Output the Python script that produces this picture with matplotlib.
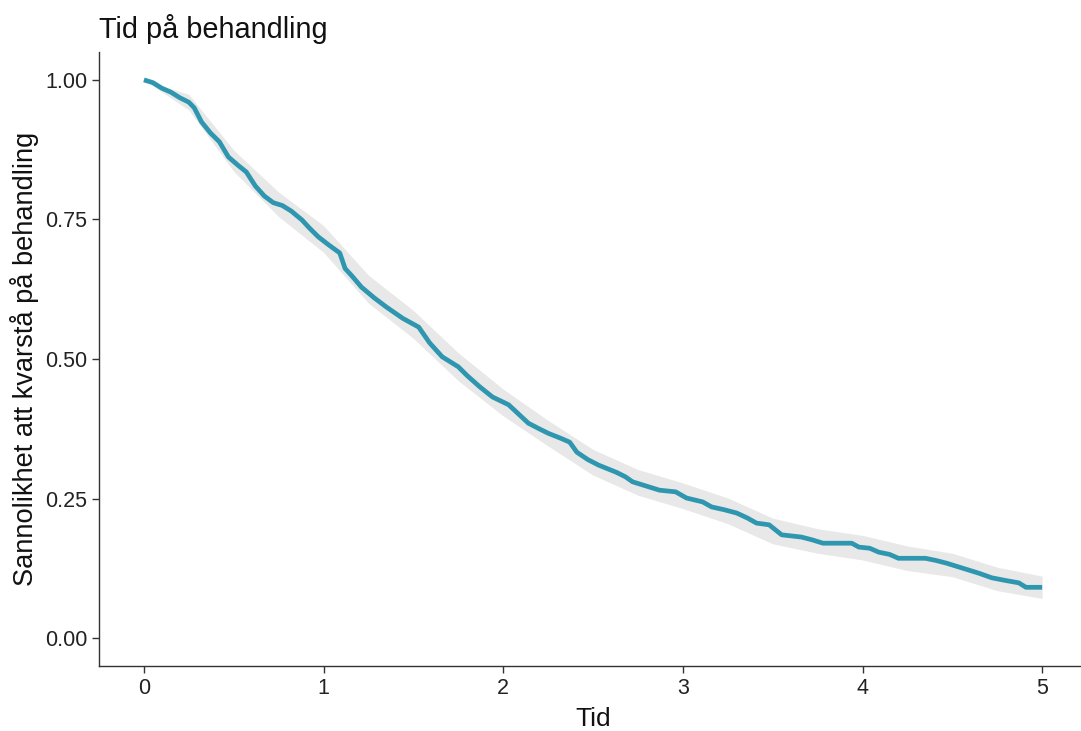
"""Kaplan-Meier curve: Tid på behandling"""
import matplotlib
matplotlib.use('Agg')
import matplotlib.pyplot as plt

# Survival curve (time, probability)
tid = [0.00, 0.05, 0.10, 0.15, 0.20, 0.25, 0.28, 0.32, 0.37, 0.42, 0.47, 0.52,
       0.57, 0.62, 0.67, 0.72, 0.77, 0.82, 0.88, 0.92, 0.97, 1.03, 1.09, 1.12,
       1.16, 1.21, 1.28, 1.35, 1.44, 1.53, 1.59, 1.66, 1.75, 1.80, 1.87, 1.94,
       2.03, 2.09, 2.14, 2.20, 2.25, 2.32, 2.37, 2.41, 2.47, 2.53, 2.63, 2.68,
       2.72, 2.80, 2.87, 2.96, 3.02, 3.11, 3.16, 3.23, 3.30, 3.36, 3.41, 3.48,
       3.55, 3.66, 3.72, 3.78, 3.94, 3.98, 4.04, 4.09, 4.15, 4.20, 4.35, 4.41,
       4.47, 4.53, 4.59, 4.65, 4.72, 4.80, 4.87, 4.91, 5.00]
surv = [1.000, 0.995, 0.985, 0.978, 0.968, 0.960, 0.950, 0.925, 0.905, 0.889,
        0.862, 0.848, 0.835, 0.810, 0.792, 0.780, 0.775, 0.765, 0.749, 0.735,
        0.719, 0.704, 0.690, 0.662, 0.648, 0.629, 0.610, 0.593, 0.573, 0.557,
        0.529, 0.504, 0.486, 0.470, 0.450, 0.432, 0.418, 0.400, 0.385, 0.375,
        0.367, 0.358, 0.351, 0.333, 0.320, 0.310, 0.297, 0.289, 0.280, 0.272,
        0.265, 0.262, 0.251, 0.244, 0.235, 0.230, 0.224, 0.215, 0.206, 0.203,
        0.185, 0.181, 0.176, 0.170, 0.170, 0.163, 0.161, 0.154, 0.150, 0.143,
        0.143, 0.139, 0.134, 0.128, 0.122, 0.116, 0.108, 0.103, 0.099, 0.091,
        0.091]

# Confidence band edges
band_tid = [0, 0.25, 0.5, 0.75, 1.0, 1.25, 1.5, 1.75, 2.0, 2.25, 2.5, 2.75,
            3.0, 3.25, 3.5, 3.75, 4.0, 4.25, 4.5, 4.75, 5.0]
band_upper = [1.0, 0.974, 0.874, 0.799, 0.739, 0.650, 0.587, 0.511, 0.446,
              0.390, 0.338, 0.302, 0.278, 0.251, 0.215, 0.196, 0.184, 0.165,
              0.152, 0.127, 0.111]
band_lower = [1.0, 0.946, 0.836, 0.755, 0.691, 0.600, 0.537, 0.461, 0.398,
              0.344, 0.292, 0.256, 0.232, 0.205, 0.169, 0.152, 0.140, 0.121,
              0.110, 0.085, 0.071]

x_ticks = [0, 1, 2, 3, 4, 5]
y_ticks = [0.00, 0.25, 0.50, 0.75, 1.00]

plt.rcParams['font.family'] = ['Liberation Sans', 'DejaVu Sans']

fig = plt.figure(figsize=(10.81, 7.31), dpi=100)
ax = fig.add_axes([0.0916, 0.0889, 0.914, 0.840])

ax.fill_between(band_tid, band_lower, band_upper, color='#e8e8e8', lw=0)
ax.plot(tid, surv, color='#2f96b0', lw=3.4, solid_capstyle='butt')

ax.set_xlim(-0.25, 5.25)
ax.set_ylim(-0.05, 1.05)
ax.set_xticks(x_ticks)
ax.set_xticklabels([str(t) for t in x_ticks])
ax.set_yticks(y_ticks)
ax.set_yticklabels([f'{v:.2f}' for v in y_ticks])

for side in ['top', 'right']:
    ax.spines[side].set_visible(False)
for side in ['left', 'bottom']:
    ax.spines[side].set_color('#333333')
    ax.spines[side].set_linewidth(1.0)
ax.tick_params(colors='#333333', labelcolor='#222222', labelsize=15.5,
               length=5, width=1.0)

ax.set_xlabel('Tid', fontsize=19, color='#111111', labelpad=6)
ax.set_ylabel('Sannolikhet att kvarstå på behandling', fontsize=19.6,
              color='#111111', labelpad=4)
ax.set_title('Tid på behandling', fontsize=20.8, loc='left', color='#111111',
             pad=10)

fig.savefig('out.png', dpi=100)
